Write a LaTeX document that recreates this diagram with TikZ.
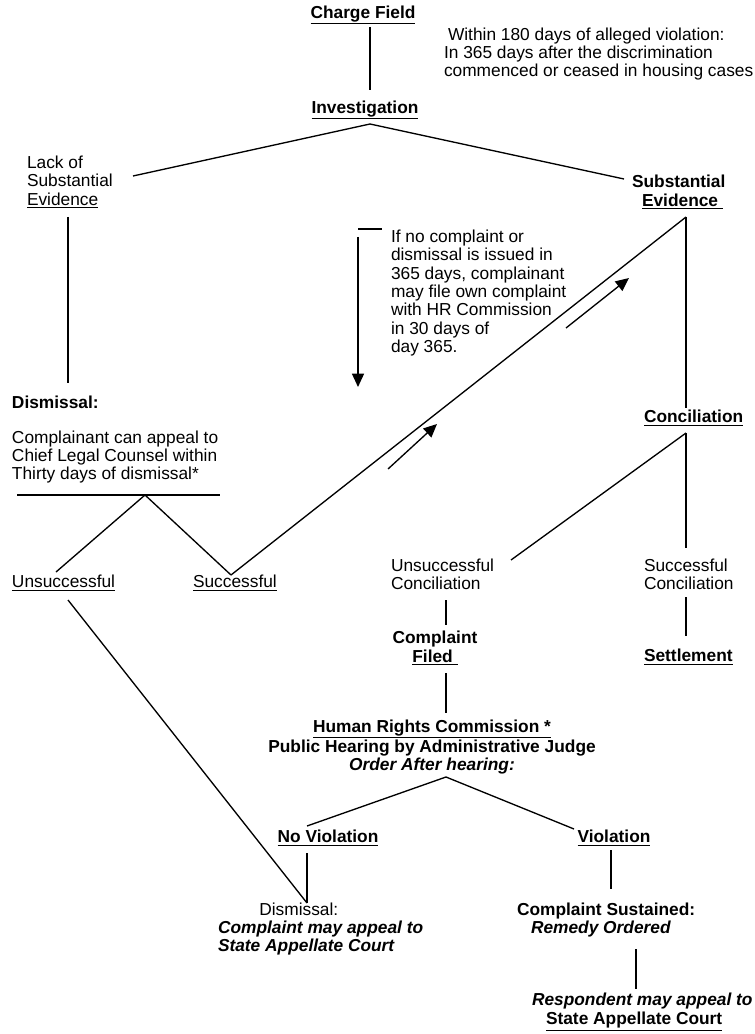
\documentclass[tikz,border=0pt]{standalone}
\usepackage{fontspec}
\setmainfont{Liberation Sans}
\usetikzlibrary{arrows.meta}
\begin{document}
\begin{tikzpicture}[x=0.75pt,y=-0.75pt,
  lbl/.style={inner sep=0pt, outer sep=0pt, align=left, font=\fontsize{13pt}{13.8pt}\selectfont},
  ln/.style={line width=1pt},
  arr/.style={ln,-{Triangle[length=10pt,width=9pt]}}]
\useasboundingbox (0,0) rectangle (755,1034);
% nodes
\node[lbl] (cf) at (363,15) {\textbf{\underline{Charge Field}}};
\node[lbl,anchor=west] (note) at (444,54) {\hspace*{3pt}Within 180 days of alleged violation:\\In 365 days after the discrimination\\commenced or ceased in housing cases};
\node[lbl] (inv) at (365,110) {\textbf{\underline{Investigation}}};
\node[lbl,anchor=west] (lack) at (27,182) {Lack of\\Substantial\\\underline{Evidence}};
\node[lbl,anchor=west] (subst) at (632,192) {\textbf{Substantial}\\\hspace*{7.5pt}\textbf{\underline{Evidence\ }}};
\node[lbl,anchor=west] (dis) at (12,402) {\textbf{Dismissal:}};
\node[lbl,anchor=west] (appeal) at (12,457) {Complainant can appeal to\\Chief Legal Counsel within\\Thirty days of dismissal*};
\node[lbl,anchor=west] (unsucc) at (12,583) {\underline{Unsuccessful}};
\node[lbl,anchor=west] (succ) at (193,583) {\underline{Successful}};
\node[lbl,anchor=west] (ifno) at (391,293) {If no complaint or\\dismissal is issued in\\365 days, complainant\\may file own complaint\\with HR Commission\\in 30 days of\\day 365.};
\node[lbl,anchor=west] (concil) at (644,418) {\textbf{\underline{Conciliation}}};
\node[lbl,anchor=west] (uc) at (391,574) {Unsuccessful\\Conciliation};
\node[lbl,anchor=west] (sc) at (644,574) {Successful\\Conciliation};
\node[lbl,align=center] (cfiled) at (435,648) {\textbf{Complaint}\\\textbf{\underline{Filed\ }}};
\node[lbl,anchor=west] (settle) at (644,657) {\textbf{\underline{Settlement}}};
\node[lbl,align=center] (hrc) at (432,747) {\textbf{\underline{Human Rights Commission *}}\\\textbf{Public Hearing by Administrative Judge}\\\textbf{\textit{Order After hearing:}}};
\node[lbl] (nov) at (328,838) {\textbf{\underline{No Violation}}};
\node[lbl] (viol) at (614,838) {\textbf{\underline{Violation}}};
\node[lbl,anchor=west] (dis2) at (218,929) {\hspace*{31pt}Dismissal:\\\textbf{\textit{Complaint may appeal to}}\\\textbf{\textit{State Appellate Court}}};
\node[lbl,anchor=west] (sust) at (517,920) {\textbf{Complaint Sustained:}\\\hspace*{10.5pt}\textbf{\textit{Remedy Ordered}}};
\node[lbl,anchor=west] (resp) at (532,1012) {\textbf{\textit{Respondent may appeal to}}\\\hspace*{10.5pt}\textbf{\underline{State Appellate Court}}};
% coordinates
\coordinate (cfB) at (370,27);
\coordinate (invT) at (370,90);
\coordinate (invB) at (370,124);
\coordinate (lackT) at (133,176);
\coordinate (subT) at (624,179);
\coordinate (lackB) at (68,217);
\coordinate (disT) at (68,383);
\coordinate (subB) at (686,217);
\coordinate (conT) at (686,408);
\coordinate (conB) at (686,433);
\coordinate (scT) at (686,548);
\coordinate (ucT) at (511,560);
\coordinate (barL) at (17,495);
\coordinate (barR) at (220,495);
\coordinate (barA) at (145,495);
\coordinate (unT) at (56,572);
\coordinate (suT) at (231,575);
\coordinate (a1s) at (388,469);
\coordinate (a1e) at (437,424);
\coordinate (a2s) at (566,328);
\coordinate (a2e) at (629,278);
\coordinate (tickL) at (358,229);
\coordinate (tickR) at (382,229);
\coordinate (vaS) at (358,237);
\coordinate (vaE) at (358,387);
\coordinate (ucB) at (446,600);
\coordinate (cfT) at (446,625);
\coordinate (cfiB) at (446,673);
\coordinate (hrcT) at (446,713);
\coordinate (scB) at (686,597);
\coordinate (setT) at (686,636);
\coordinate (hrcB) at (446,777);
\coordinate (novT) at (307,826);
\coordinate (violT) at (574,829);
\coordinate (novB) at (307,853);
\coordinate (dis2T) at (307,903);
\coordinate (unB) at (68,600);
\coordinate (violB) at (611,850);
\coordinate (sustT) at (611,889);
\coordinate (sustB) at (636,949);
\coordinate (respT) at (636,989);
% connectors
\draw[ln] (cfB) -- (invT);
\draw[ln] (invB) -- (lackT);
\draw[ln] (invB) -- (subT);
\draw[ln] (lackB) -- (disT);
\draw[ln] (subB) -- (conT);
\draw[ln] (conB) -- (scT);
\draw[ln] (conB) -- (ucT);
\draw[ln] (barL) -- (barR);
\draw[ln] (barA) -- (unT);
\draw[ln] (barA) -- (suT);
\draw[ln] (suT) -- (subB);
\draw[arr] (a1s) -- (a1e);
\draw[arr] (a2s) -- (a2e);
\draw[ln] (tickL) -- (tickR);
\draw[arr] (vaS) -- (vaE);
\draw[ln] (ucB) -- (cfT);
\draw[ln] (cfiB) -- (hrcT);
\draw[ln] (scB) -- (setT);
\draw[ln] (hrcB) -- (novT);
\draw[ln] (hrcB) -- (violT);
\draw[ln] (novB) -- (dis2T);
\draw[ln] (unB) -- (dis2T);
\draw[ln] (violB) -- (sustT);
\draw[ln] (sustB) -- (respT);
\end{tikzpicture}
\end{document}
